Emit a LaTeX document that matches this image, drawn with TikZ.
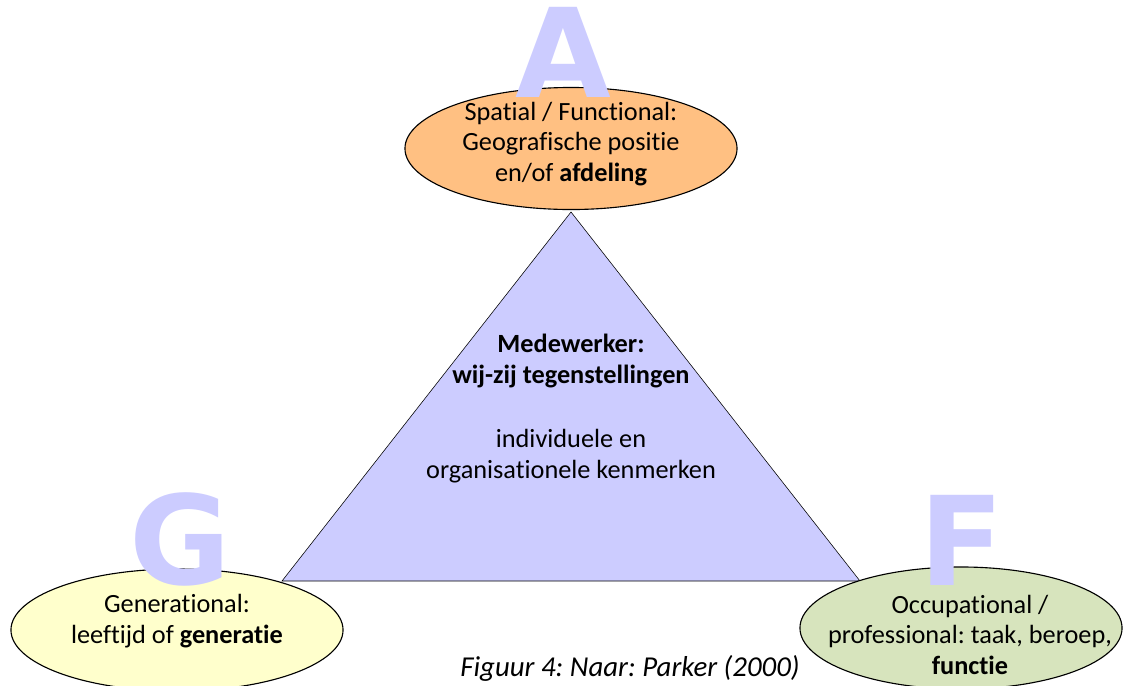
\documentclass[tikz,border=0pt]{standalone}
\usepackage{fontspec}
\setmainfont{Carlito}[Ligatures=NoCommon]
\newfontfamily\bigletter{DejaVu Sans}
\usetikzlibrary{shapes.geometric}
\definecolor{lavendel}{HTML}{CCCCFF}
\definecolor{oranje}{HTML}{FFC082}
\definecolor{geel}{HTML}{FFFFCC}
\definecolor{groen}{HTML}{D7E4BD}
\frenchspacing
\begin{document}
\begin{tikzpicture}[x=0.025cm, y=-0.025cm,
	dimensie/.style={ellipse, draw=black, thick, minimum width=8.3cm, minimum height=3.05cm, inner sep=0pt},
	tekst/.style={align=center, inner sep=0pt, anchor=base, font=\fontsize{18.7}{21.5}\selectfont},
	letter/.style={anchor=base, inner sep=0pt, text depth=0pt, text=lavendel, font=\fontsize{88}{88}\bigletter\bfseries}]
	\useasboundingbox (0,0) rectangle (1124,685);
	% driehoek in het midden
	\coordinate (top) at (571,212);
	\coordinate (links) at (282,581);
	\coordinate (rechts) at (860,581);
	\filldraw[draw=black, fill=lavendel] (top) -- (links) -- (rechts) -- cycle;
	% de drie ellipsen
	\node[dimensie, fill=oranje] (spatial) at (571,148.5) {};
	\node[dimensie, fill=geel] (generational) at (177,630) {};
	\node[dimensie, fill=groen, minimum width=8.05cm] (occupational) at (961,628) {};
	% letters A, G en F
	\node[letter] (A) at (563,97) {A};
	\node[letter] (G) at (180,584) {G};
	\node[letter] (F) at (962,585) {F};
	% teksten (anker = basislijn van de laatste regel)
	\node[tekst] (spatialtekst) at (571,181) {Spatial / Functional:\\Geografische positie\\en/of \textbf{afdeling}};
	\node[tekst] (gentekst) at (177,643) {Generational:\\leeftijd of \textbf{generatie}};
	\node[tekst] (occtekst) at (970,674) {Occupational /\\professional: taak, beroep,\\\textbf{functie}};
	\node[tekst, font=\fontsize{18.7}{21.5}\selectfont\bfseries] (medewerker) at (571,383) {Medewerker:\\wij-zij tegenstellingen};
	\node[tekst] (kenmerken) at (571,478) {individuele en\\organisationele kenmerken};
	\node[tekst, font=\fontsize{20.5}{21.5}\selectfont\itshape] (bron) at (630,676) {Figuur 4: Naar: Parker (2000)};
\end{tikzpicture}
\end{document}
